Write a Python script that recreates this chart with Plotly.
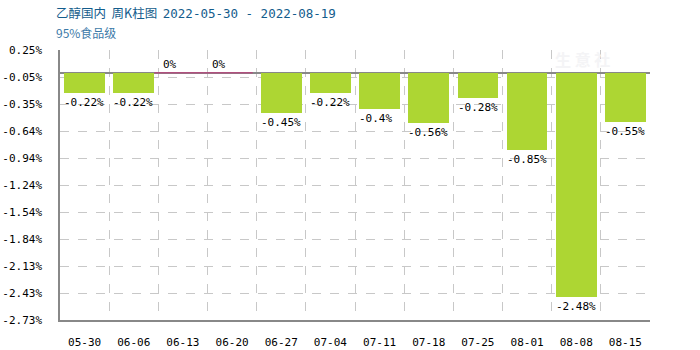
import plotly.graph_objects as go

categories = ["05-30", "06-06", "06-13", "06-20", "06-27", "07-04", "07-11",
              "07-18", "07-25", "08-01", "08-08", "08-15"]
values = [-0.22, -0.22, 0, 0, -0.45, -0.22, -0.4, -0.56, -0.28, -0.85, -2.48, -0.55]
label_texts = ["-0.22%", "-0.22%", "0%", "0%", "-0.45%", "-0.22%", "-0.4%",
               "-0.56%", "-0.28%", "-0.85%", "-2.48%", "-0.55%"]
y_tickvals = [0.25, -0.048, -0.346, -0.644, -0.942, -1.24, -1.538, -1.836, -2.134, -2.432, -2.73]
y_ticktext = ["0.25%", "-0.05%", "-0.35%", "-0.64%", "-0.94%", "-1.24%", "-1.54%",
              "-1.84%", "-2.13%", "-2.43%", "-2.73%"]
title_main = "乙醇国内&nbsp;&nbsp;周K柱图"
title_dates = "2022-05-30 - 2022-08-19"
subtitle = "95%食品级"

BAR_W = 0.83
MONO = "DejaVu Sans Mono"
idx = list(range(len(categories)))

fig = go.Figure()
fig.add_trace(go.Bar(x=idx, y=values, width=BAR_W, marker=dict(color="#add633", line=dict(width=0)),
                     hoverinfo="skip"))

# pink zero segments for zero-valued weeks
zx, zy = [], []
for i, v in zip(idx, values):
    if v == 0:
        zx += [i - 0.5 - 0.08, i + 0.5 - 0.08, None]
        zy += [0, 0, None]
fig.add_trace(go.Scatter(x=zx, y=zy, mode="lines", line=dict(color="#b0507e", width=1.5),
                         hoverinfo="skip"))

ann = []
for i, v, t in zip(idx, values, label_texts):
    if v < 0:
        ann.append(dict(x=i - BAR_W / 2, y=v, xref="x", yref="y", text=t, showarrow=False,
                        xanchor="left", yanchor="top", yshift=-1, xshift=-2,
                        font=dict(family=MONO, size=11, color="#000")))
    else:
        ann.append(dict(x=i - BAR_W / 2, y=v, xref="x", yref="y", text=t, showarrow=False,
                        xanchor="left", yanchor="bottom", yshift=0, xshift=-2,
                        font=dict(family=MONO, size=11, color="#000")))

ann.append(dict(x=0, y=1.14, xref="paper", yref="paper", xanchor="left", yanchor="middle",
                showarrow=False, xshift=-6,
                text=title_main + "&nbsp;&nbsp;<span style='font-family:DejaVu Sans Mono'>" + title_dates + "</span>",
                font=dict(family="Noto Sans CJK SC", size=12.5, color="#135c8c")))
ann.append(dict(x=0, y=1.065, xref="paper", yref="paper", xanchor="left", yanchor="middle",
                showarrow=False, text=subtitle, xshift=-6,
                font=dict(family="Noto Sans CJK SC", size=12, color="#3c7aa8")))
# faint watermark
ann.append(dict(x=0.885, y=0.965, xref="paper", yref="paper", xanchor="center", yanchor="middle",
                showarrow=False, text="<b>生 意 社</b>",
                font=dict(family="Noto Sans CJK SC", size=16, color="#f4f4f6")))

fig.update_layout(
    width=700, height=350, margin=dict(l=60, r=50, t=50, b=30),
    plot_bgcolor="white", paper_bgcolor="white", showlegend=False, bargap=0,
    annotations=ann,
    font=dict(family=MONO, size=11, color="#000"),
)
fig.update_xaxes(
    range=[-0.5, len(categories) - 0.5], tickmode="array", tickvals=idx, ticktext=categories,
    showgrid=False, showline=True, linecolor="#888", linewidth=1.5, ticks="", zeroline=False,
    ticklabelstandoff=11, automargin=False,
    minor=dict(tickmode="linear", tick0=0.5, dtick=1, showgrid=True, gridcolor="#c8c8c8",
               griddash="dash", gridwidth=1, ticks=""),
    fixedrange=True,
)
fig.update_yaxes(
    range=[-2.73, 0.25], tickmode="array", tickvals=y_tickvals, ticktext=y_ticktext,
    showgrid=True, gridcolor="#c8c8c8", griddash="dash", gridwidth=1,
    showline=True, linecolor="#888", linewidth=1.5, ticks="",
    zeroline=True, zerolinecolor="#888", zerolinewidth=1.5,
    ticklabelstandoff=14, automargin=False, fixedrange=True,
)
fig.write_html("out.html")
